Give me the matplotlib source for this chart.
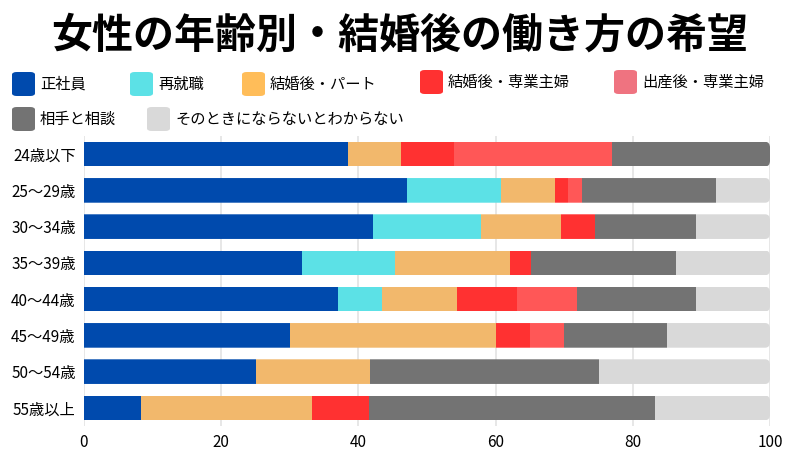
"""Stacked horizontal bars: 女性の年齢別・結婚後の働き方の希望."""

import numpy as np
import matplotlib.pyplot as plt
from matplotlib.patches import FancyBboxPatch

plt.rcParams["font.family"] = ["Noto Sans CJK JP", "DejaVu Sans"]

age_groups = ["24歳以下", "25〜29歳", "30〜34歳", "35〜39歳",
              "40〜44歳", "45〜49歳", "50〜54歳", "55歳以上"]
series_names = ["正社員", "再就職", "結婚後・パート", "結婚後・専業主婦",
                "出産後・専業主婦", "相手と相談", "そのときにならないとわからない"]

seishain = [38.5, 47.1, 42.1, 31.8, 37.0, 30.0, 25.0, 8.3]
saishushoku = [0.0, 13.7, 15.8, 13.6, 6.5, 0.0, 0.0, 0.0]
kekkon_part = [7.7, 7.8, 11.7, 16.7, 10.9, 30.0, 16.7, 25.0]
kekkon_sengyo = [7.7, 2.0, 4.9, 3.1, 8.7, 5.0, 0.0, 8.3]
shussan_sengyo = [23.1, 2.0, 0.0, 0.0, 8.7, 5.0, 0.0, 0.0]
aite_sodan = [23.0, 19.6, 14.7, 21.1, 17.4, 15.0, 33.3, 41.7]
wakaranai = [0.0, 7.8, 10.8, 13.7, 10.8, 15.0, 25.0, 16.7]

bar_colors = ["#004AAD", "#5CE1E6", "#F2B86C", "#FF3131",
              "#FF5757", "#737373", "#D9D9D9"]
legend_colors = ["#004AAD", "#5CE1E6", "#FFBD59", "#FF3131",
                 "#EF7380", "#737373", "#D9D9D9"]

values = np.array([seishain, saishushoku, kekkon_part, kekkon_sengyo,
                   shussan_sengyo, aite_sodan, wakaranai])

fig = plt.figure(figsize=(8, 4.5), dpi=100)
ax = fig.add_axes([84 / 800, 1 - 426 / 450, 686 / 800, 290 / 450])

BAR_H = 0.68
y = np.arange(len(age_groups))
ax.set_xlim(0, 100)
ax.set_ylim(len(age_groups) - 0.5, -0.5)

# one rounded clip shape per row (right end rounded, as in the original)
clips = []
for yi, total in zip(y, values.sum(axis=0)):
    clip = FancyBboxPatch((-3, yi - BAR_H / 2), total + 3, BAR_H,
                          boxstyle="round,pad=0,rounding_size=0.7",
                          mutation_aspect=0.16 / 0.7,
                          transform=ax.transData, facecolor="none",
                          edgecolor="none")
    clips.append(clip)

left = np.zeros(len(age_groups))
for vals, color in zip(values, bar_colors):
    bars = ax.barh(y, vals, left=left, height=BAR_H, color=color, zorder=3,
                   linewidth=0)
    for bar, clip in zip(bars, clips):
        bar.set_clip_path(clip)
    left += vals

ax.set_yticks(y)
ax.set_yticklabels(age_groups, fontsize=11)
ax.set_xticks(range(0, 101, 20))
ax.tick_params(axis="x", labelsize=11, length=0, pad=6)
ax.tick_params(axis="y", length=0, pad=6)
ax.grid(True, axis="x", color="#E3E3E3", lw=1.2, zorder=0)
for s in ax.spines.values():
    s.set_visible(False)

fig.text(0.5, 1 - 36 / 450, "女性の年齢別・結婚後の働き方の希望",
         ha="center", va="center", fontsize=29.5, fontweight="bold")

# legend, laid out by hand like the original
legend_pos = [(12, 84), (130, 84), (242, 84), (420, 82), (614, 82),
              (12, 119), (147, 119)]
for (px, py), name, color in zip(legend_pos, series_names, legend_colors):
    box = FancyBboxPatch((px / 800, 1 - (py + 12) / 450), 23 / 800, 24 / 450,
                         boxstyle="round,pad=0,rounding_size=0.006",
                         transform=fig.transFigure, facecolor=color,
                         edgecolor="none")
    fig.add_artist(box)
    fig.text((px + 28) / 800, 1 - py / 450, name, ha="left", va="center",
             fontsize=11)

fig.savefig("out.png", dpi=100)
